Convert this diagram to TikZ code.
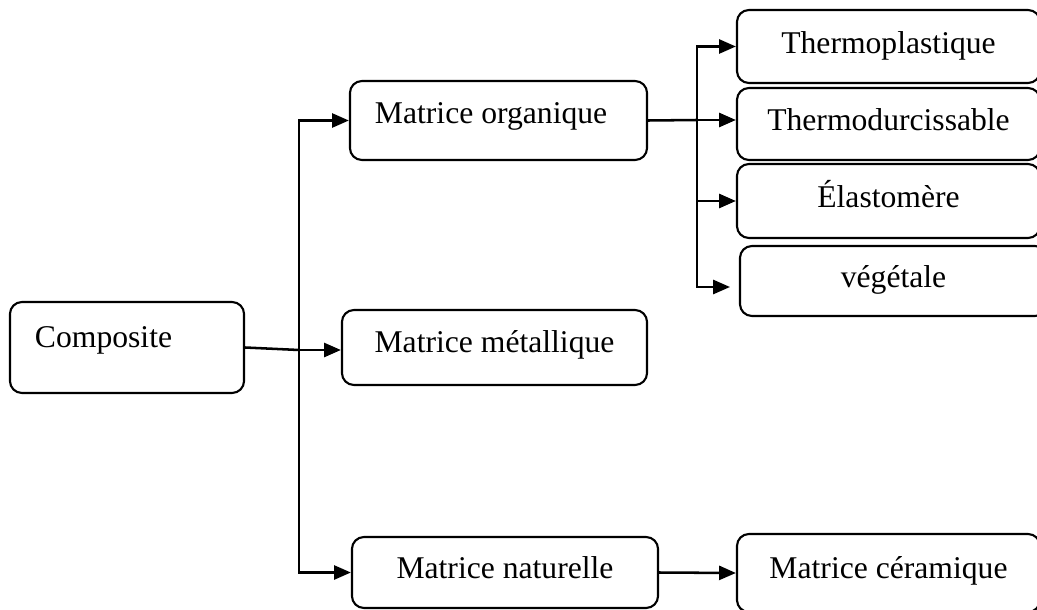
\documentclass[tikz,border=0pt]{standalone}
\usepackage{fontspec}
\setmainfont{Liberation Serif}
\usetikzlibrary{arrows.meta}
\begin{document}
\begin{tikzpicture}[x=0.025cm, y=-0.025cm,
    every node/.style={font=\fontsize{22.5}{27}\selectfont},
    box/.style={draw, line width=1.5pt, rounded corners=0.3cm, inner sep=0pt, text height=16pt, text depth=6.5pt},
    arr/.style={line width=1.8pt, -{Triangle[length=12pt, width=10pt]}}]
  \clip (0,0) rectangle (1037,610);
  % left column
  \node[box, minimum width=5.85cm, minimum height=2.275cm, text width=4.6cm, align=flush left, text depth=16pt] (comp) at (127,347.5) {Composite};
  % middle column
  \node[box, minimum width=7.425cm, minimum height=1.975cm, text width=6.175cm, align=flush left, text depth=12.4pt] (org) at (498.5,120.5) {Matrice organique};
  \node[box, minimum width=7.625cm, minimum height=1.875cm, text depth=9.6pt] (met) at (494.5,347.5) {Matrice métallique};
  \node[box, minimum width=7.65cm, minimum height=1.775cm, text depth=8pt] (nat) at (505,572.5) {Matrice naturelle};
  % right column
  \node[box, minimum width=7.575cm, minimum height=1.825cm] (tpl) at (888.5,46.5) {Thermoplastique};
  \node[box, minimum width=7.575cm, minimum height=1.8cm] (tdu) at (888.5,124) {Thermodurcissable};
  \node[box, minimum width=7.575cm, minimum height=1.85cm] (ela) at (888.5,201) {Élastomère};
  \node[box, minimum width=7.675cm, minimum height=1.75cm] (veg) at (893.5,281) {végétale};
  \node[box, minimum width=7.575cm, minimum height=1.95cm, text depth=8pt] (cer) at (888.5,573) {Matrice céramique};
  % branch points
  \coordinate (jct) at (299,350);
  \coordinate (br) at (697,120);
  \coordinate (vegin) at (730,287);
  % connectors
  \draw[line width=1.8pt] (comp.east) -- (jct);
  \draw[arr] (jct) -- (met.west |- jct);
  \draw[arr] (jct) |- (org.west);
  \draw[arr] (jct) |- (nat.west);
  \draw[line width=1.8pt] (org.east) -- (br);
  \draw[arr] (br) -- (br -| tdu.west);
  \draw[arr] (br) |- (tpl.west);
  \draw[arr] (br) |- (ela.west);
  \draw[arr] (br) |- (vegin);
  \draw[arr] (nat.east) -- (cer.west);
\end{tikzpicture}
\end{document}
